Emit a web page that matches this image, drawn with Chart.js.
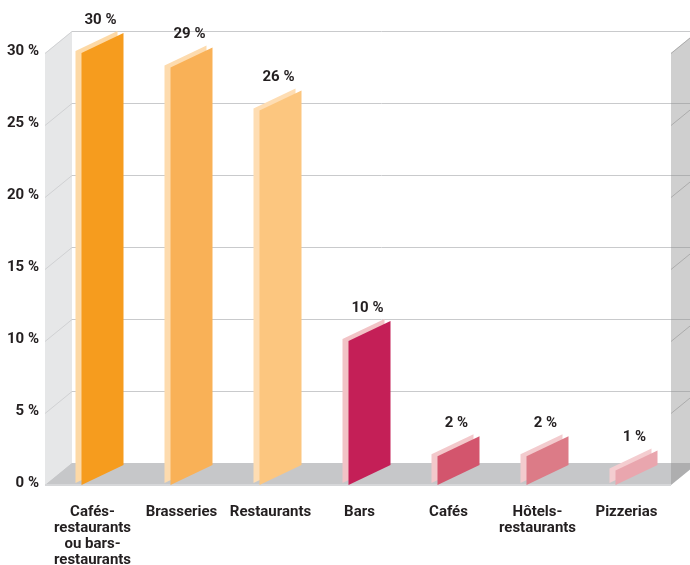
<!DOCTYPE html>
<html lang="fr">
<head>
<meta charset="utf-8">
<title>Répartition des établissements</title>
<script src="https://cdn.jsdelivr.net/npm/chart.js@4.4.1/dist/chart.umd.min.js"></script>
<style>
  html, body { margin: 0; padding: 0; background: #fff; }
  #wrap { position: relative; width: 690px; height: 565px; }
</style>
</head>
<body>
<div id="wrap"><canvas id="barChart"></canvas></div>
<script>
// Établissements, share in %
const categories = [
    ['Cafés-', 'restaurants', 'ou bars-', 'restaurants'],
    'Brasseries',
    'Restaurants',
    'Bars',
    'Cafés',
    ['Hôtels-', 'restaurants'],
    'Pizzerias'
];
const shares = [30, 29, 26, 10, 2, 2, 1];
const yTicks = [0, 5, 10, 15, 20, 25, 30];

// front face and lit edge of each slab
const faceColors = ['#F69C1E', '#F9B157', '#FCC67F', '#C41F57', '#D3556D', '#DC7B87', '#E9A6AE'];
const edgeColors = ['#FDD9A6', '#FDDBAE', '#FEDDB3', '#F2C3C6', '#F3C8CB', '#F3CBCE', '#F4CDD0'];

const FONT = 'Roboto, "Liberation Sans", sans-serif';
const INK = '#231F20';

// depth of the box walls and of the slabs
const WALL_DX = 27, WALL_DY = -22;
const BAR_DX = 42, BAR_DY = -20;
const EDGE_DX = -6, EDGE_DY = -2;

function poly(ctx, pts, fill) {
    ctx.beginPath();
    ctx.moveTo(pts[0][0], pts[0][1]);
    for (let i = 1; i < pts.length; i++) ctx.lineTo(pts[i][0], pts[i][1]);
    ctx.closePath();
    ctx.fillStyle = fill;
    ctx.fill();
}

function line(ctx, x1, y1, x2, y2, color) {
    ctx.beginPath();
    ctx.moveTo(x1, y1);
    ctx.lineTo(x2, y2);
    ctx.strokeStyle = color;
    ctx.stroke();
}

// Draws the box (left wall, back grid, floor, right wall) and the 3D slabs
const box3d = {
    id: 'box3d',
    beforeDatasetsDraw(chart) {
        const { ctx, chartArea, scales: { y } } = chart;
        const fl = chartArea.left - 3, fr = chartArea.right;
        const y0 = y.getPixelForValue(0), yTop = y.getPixelForValue(y.max);
        ctx.save();
        ctx.lineWidth = 1;

        // left wall
        poly(ctx, [[fl, yTop], [fl + WALL_DX, yTop + WALL_DY], [fl + WALL_DX, y0 + WALL_DY], [fl, y0]], '#E6E7E8');

        yTicks.forEach(v => {
            const py = Math.round(y.getPixelForValue(v)) + 0.5;
            line(ctx, fl, py, fl + WALL_DX, py + WALL_DY, '#D0D1D3');
            if (v > 0) line(ctx, fl + WALL_DX, py + WALL_DY, fr + WALL_DX, py + WALL_DY, '#C9CACC');
        });

        // floor
        poly(ctx, [[fl, y0], [fl + WALL_DX, y0 + WALL_DY], [fr + WALL_DX, y0 + WALL_DY], [fr, y0]], '#C6C7C9');
        ctx.lineWidth = 2;
        line(ctx, fl, y0, fr, y0, '#D6D7D9');
        ctx.restore();
    },
    afterDatasetsDraw(chart) {
        const { ctx, chartArea, scales: { y } } = chart;
        const fr = chartArea.right;
        const y0 = y.getPixelForValue(0), yTop = y.getPixelForValue(y.max);
        const meta = chart.getDatasetMeta(0);
        ctx.save();

        meta.data.forEach((bar, i) => {
            const x0 = bar.x - 11, x1 = x0 + BAR_DX;
            const top = bar.y, base = bar.base;
            const face = [[x0, base], [x0, top], [x1, top + BAR_DY], [x1, base + BAR_DY]];
            poly(ctx, face.map(p => [p[0] + EDGE_DX, p[1] + EDGE_DY]), edgeColors[i]);
            poly(ctx, face, faceColors[i]);
        });

        // right wall, see-through
        poly(ctx, [[fr, yTop], [fr + WALL_DX, yTop + WALL_DY], [fr + WALL_DX, y0 + WALL_DY], [fr, y0]], 'rgba(140,140,140,0.42)');
        ctx.lineWidth = 1;
        yTicks.forEach(v => {
            if (v === 0) return;
            const py = Math.round(y.getPixelForValue(v)) + 0.5;
            line(ctx, fr, py, fr + WALL_DX, py + WALL_DY, '#ABABAB');
        });

        // value labels
        ctx.fillStyle = INK;
        ctx.font = 'bold 15px ' + FONT;
        ctx.textAlign = 'center';
        ctx.textBaseline = 'middle';
        meta.data.forEach((bar, i) => {
            ctx.fillText(shares[i] + ' %', bar.x + 8, bar.y - 33);
        });
        ctx.restore();
    }
};

const ctx = document.getElementById('barChart').getContext('2d');
const chart = new Chart(ctx, {
    type: 'bar',
    data: {
        labels: categories,
        datasets: [{
            data: shares,
            backgroundColor: 'rgba(0,0,0,0)',
            borderWidth: 0
        }]
    },
    options: {
        responsive: true,
        maintainAspectRatio: false,
        animation: false,
        events: [],
        layout: { padding: { top: 53, right: 19, bottom: 0, left: 0 } },
        scales: {
            x: {
                offset: true,
                grid: { display: false, drawTicks: false },
                border: { display: false },
                ticks: {
                    color: INK,
                    padding: 19,
                    maxRotation: 0,
                    autoSkip: false,
                    font: { family: FONT, size: 15, weight: 'bold', lineHeight: 16 / 15 }
                },
                afterFit(scale) { scale.height = 80; }
            },
            y: {
                min: 0,
                max: 30,
                afterBuildTicks(scale) { scale.ticks = yTicks.map(v => ({ value: v })); },
                grid: { display: false, drawTicks: false },
                border: { display: false },
                ticks: {
                    color: INK,
                    padding: 9,
                    labelOffset: -2,
                    font: { family: FONT, size: 15, weight: 'bold' },
                    callback: v => v + ' %'
                },
                afterFit(scale) { scale.width = 48; }
            }
        },
        plugins: {
            legend: { display: false },
            tooltip: { enabled: false }
        }
    },
    plugins: [box3d]
});
</script>
</body>
</html>
